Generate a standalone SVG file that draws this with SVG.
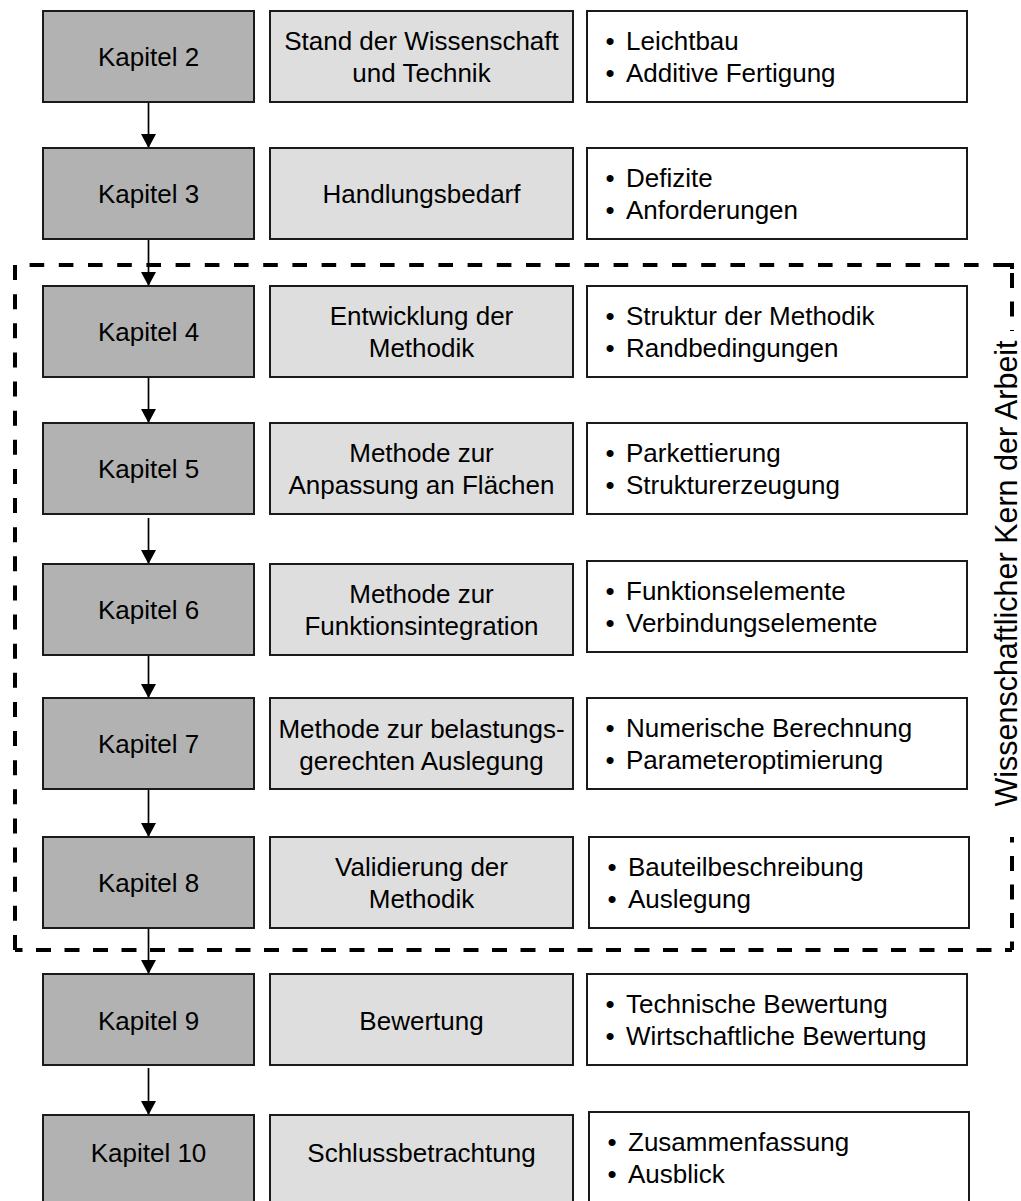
<svg xmlns="http://www.w3.org/2000/svg" width="1021" height="1201" viewBox="0 0 1021 1201">
<defs>
<style>
text{font-family:"Liberation Sans",Arial,sans-serif;font-size:26px;fill:#000}
.k{fill:#b2b2b2;stroke:#1a1a1a;stroke-width:2}
.m{fill:#dedede;stroke:#1a1a1a;stroke-width:2}
.r{fill:#fff;stroke:#1a1a1a;stroke-width:2}
.c{text-anchor:middle}
.dash{fill:none;stroke:#000;stroke-width:4;stroke-linecap:butt}
.arr{fill:none;stroke:#000;stroke-width:1.7;marker-end:url(#ah)}
</style>
<marker id="ah" viewBox="0 0 14 15" refX="14" refY="7.5" markerWidth="14" markerHeight="15" markerUnits="userSpaceOnUse" orient="auto">
<path d="M0,0 L14,7.5 L0,15 Z" fill="#000"/>
</marker>
</defs>
<rect width="1021" height="1201" fill="#fff"/>

<g id="border">
<path class="dash" d="M15,265 V950" stroke-dasharray="15 14.13"/>
<path class="dash" d="M15,265 H1012" stroke-dasharray="14.6 14.6" stroke-dashoffset="14.6"/>
<path class="dash" d="M1012,950 H15" stroke-dasharray="15 13.5" stroke-dashoffset="8"/>
<path class="dash" d="M1007,265 H1012 V269"/>
<path class="dash" d="M1012,265 V331" stroke-dasharray="15 13.5" stroke-dashoffset="20.5"/>
<path class="dash" d="M1012,950 V837" stroke-dasharray="15 13.5" stroke-dashoffset="6.5"/>
<text transform="translate(1017,573.5) rotate(-90)" class="c" style="font-size:30.5px">Wissenschaftlicher Kern der Arbeit</text>
</g>

<g id="connectors">
<line class="arr" x1="148.5" y1="102" x2="148.5" y2="148"/>
<line class="arr" x1="148.5" y1="239" x2="148.5" y2="286"/>
<line class="arr" x1="148.5" y1="377" x2="148.5" y2="423"/>
<line class="arr" x1="148.5" y1="518" x2="148.5" y2="564"/>
<line class="arr" x1="148.5" y1="652" x2="148.5" y2="698"/>
<line class="arr" x1="148.5" y1="789" x2="148.5" y2="837"/>
<line class="arr" x1="148.5" y1="927" x2="148.5" y2="974"/>
<line class="arr" x1="148.5" y1="1068" x2="148.5" y2="1115"/>
</g>

<g id="kap2"><rect class="k" x="43" y="11" width="211" height="91"/><text class="c" x="148.5" y="66">Kapitel 2</text></g>
<g id="kap3"><rect class="k" x="43" y="148" width="211" height="91"/><text class="c" x="148.5" y="203">Kapitel 3</text></g>
<g id="kap4"><rect class="k" x="43" y="286" width="211" height="91"/><text class="c" x="148.5" y="341">Kapitel 4</text></g>
<g id="kap5"><rect class="k" x="43" y="423" width="211" height="91"/><text class="c" x="148.5" y="478">Kapitel 5</text></g>
<g id="kap6"><rect class="k" x="43" y="564" width="211" height="91"/><text class="c" x="148.5" y="619">Kapitel 6</text></g>
<g id="kap7"><rect class="k" x="43" y="698" width="211" height="91"/><text class="c" x="148.5" y="753">Kapitel 7</text></g>
<g id="kap8"><rect class="k" x="43" y="837" width="211" height="91"/><text class="c" x="148.5" y="892">Kapitel 8</text></g>
<g id="kap9"><rect class="k" x="43" y="974" width="211" height="91"/><text class="c" x="148.5" y="1030">Kapitel 9</text></g>
<g id="kap10"><rect class="k" x="43" y="1115" width="211" height="91"/><text class="c" x="148.5" y="1162">Kapitel 10</text></g>

<g id="titel2"><rect class="m" x="270" y="11" width="303" height="91"/><text class="c" x="421.5" y="50">Stand der Wissenschaft</text><text class="c" x="421.5" y="82">und Technik</text></g>
<g id="titel3"><rect class="m" x="270" y="148" width="303" height="91"/><text class="c" x="421.5" y="203">Handlungsbedarf</text></g>
<g id="titel4"><rect class="m" x="270" y="286" width="303" height="91"/><text class="c" x="421.5" y="325">Entwicklung der</text><text class="c" x="421.5" y="357">Methodik</text></g>
<g id="titel5"><rect class="m" x="270" y="423" width="303" height="91"/><text class="c" x="421.5" y="462">Methode zur</text><text class="c" x="421.5" y="494">Anpassung an Flächen</text></g>
<g id="titel6"><rect class="m" x="270" y="564" width="303" height="91"/><text class="c" x="421.5" y="603">Methode zur</text><text class="c" x="421.5" y="635">Funktionsintegration</text></g>
<g id="titel7"><rect class="m" x="270" y="698" width="303" height="91"/><text class="c" x="421.5" y="738">Methode zur belastungs-</text><text class="c" x="421.5" y="770">gerechten Auslegung</text></g>
<g id="titel8"><rect class="m" x="270" y="837" width="303" height="91"/><text class="c" x="421.5" y="876">Validierung der</text><text class="c" x="421.5" y="908">Methodik</text></g>
<g id="titel9"><rect class="m" x="270" y="974" width="303" height="91"/><text class="c" x="421.5" y="1030">Bewertung</text></g>
<g id="titel10"><rect class="m" x="270" y="1115" width="303" height="91"/><text class="c" x="421.5" y="1162">Schlussbetrachtung</text></g>

<g id="inhalt2"><rect class="r" x="587" y="11" width="380" height="91"/><text class="c" x="610" y="50">•</text><text x="626" y="50">Leichtbau</text><text class="c" x="610" y="82">•</text><text x="626" y="82">Additive Fertigung</text></g>
<g id="inhalt3"><rect class="r" x="587" y="148" width="380" height="91"/><text class="c" x="610" y="187">•</text><text x="626" y="187">Defizite</text><text class="c" x="610" y="219">•</text><text x="626" y="219">Anforderungen</text></g>
<g id="inhalt4"><rect class="r" x="587" y="286" width="380" height="91"/><text class="c" x="610" y="325">•</text><text x="626" y="325">Struktur der Methodik</text><text class="c" x="610" y="357">•</text><text x="626" y="357">Randbedingungen</text></g>
<g id="inhalt5"><rect class="r" x="587" y="423" width="380" height="91"/><text class="c" x="610" y="462">•</text><text x="626" y="462">Parkettierung</text><text class="c" x="610" y="494">•</text><text x="626" y="494">Strukturerzeugung</text></g>
<g id="inhalt6"><rect class="r" x="587" y="561" width="380" height="91"/><text class="c" x="610" y="600">•</text><text x="626" y="600">Funktionselemente</text><text class="c" x="610" y="632">•</text><text x="626" y="632">Verbindungselemente</text></g>
<g id="inhalt7"><rect class="r" x="587" y="698" width="380" height="91"/><text class="c" x="610" y="737">•</text><text x="626" y="737">Numerische Berechnung</text><text class="c" x="610" y="769">•</text><text x="626" y="769">Parameteroptimierung</text></g>
<g id="inhalt8"><rect class="r" x="589" y="837" width="380" height="91"/><text class="c" x="612" y="876">•</text><text x="628" y="876">Bauteilbeschreibung</text><text class="c" x="612" y="908">•</text><text x="628" y="908">Auslegung</text></g>
<g id="inhalt9"><rect class="r" x="587" y="974" width="380" height="91"/><text class="c" x="610" y="1013">•</text><text x="626" y="1013">Technische Bewertung</text><text class="c" x="610" y="1045">•</text><text x="626" y="1045">Wirtschaftliche Bewertung</text></g>
<g id="inhalt10"><rect class="r" x="589" y="1112" width="380" height="91"/><text class="c" x="612" y="1151">•</text><text x="628" y="1151">Zusammenfassung</text><text class="c" x="612" y="1183">•</text><text x="628" y="1183">Ausblick</text></g>
</svg>
